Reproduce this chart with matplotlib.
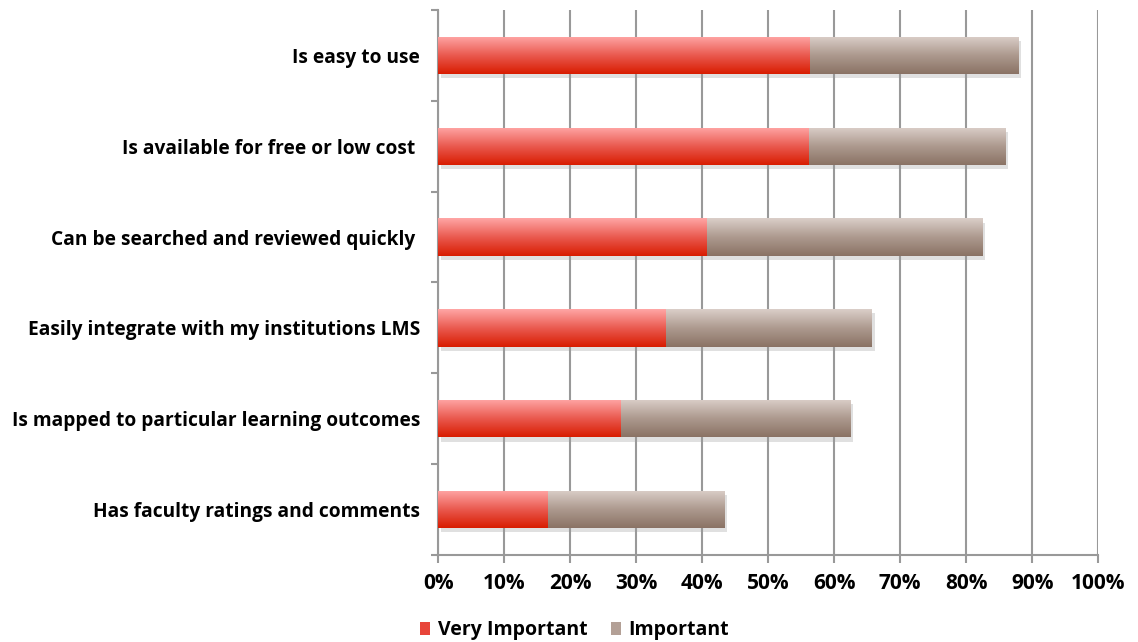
import matplotlib.pyplot as plt
import matplotlib.patheffects as pe
import numpy as np
from matplotlib.colors import LinearSegmentedColormap
from matplotlib.patches import Patch

categories = ['Is easy to use',
              'Is available for free or low cost ',
              'Can be searched and reviewed quickly ',
              'Easily integrate with my institutions LMS',
              'Is mapped to particular learning outcomes',
              'Has faculty ratings and comments']
very_important = [56.3, 56.2, 40.7, 34.5, 27.7, 16.6]
important = [31.6, 29.7, 41.7, 31.2, 34.7, 26.8]
xticks = [0, 10, 20, 30, 40, 50, 60, 70, 80, 90, 100]

plt.rcParams['font.family'] = ['Open Sans', 'DejaVu Sans']
plt.rcParams['font.weight'] = 'bold'

red_cmap = LinearSegmentedColormap.from_list('red', ['#ffa6a6', '#ea5a50', '#d81c00'])
gray_cmap = LinearSegmentedColormap.from_list('gray', ['#dbcfc9', '#ad9a8f', '#8a7264'])

fig = plt.figure(figsize=(11.38, 6.42), dpi=100)
ax = fig.add_axes([0.385, 0.1355, 0.58, 0.849])

y = np.arange(len(categories))
h = 0.41
grad = np.linspace(0, 1, 256).reshape(-1, 1)
shadow = [pe.SimplePatchShadow(offset=(2, -3), shadow_rgbFace='#999999', alpha=0.3), pe.Normal()]

bars_vi = ax.barh(y, very_important, height=h, color='#e8453a', zorder=3,
                  path_effects=shadow)
bars_im = ax.barh(y, important, left=very_important, height=h, color='#b3a096',
                  zorder=3, path_effects=shadow)

# gradient fill on each bar (light at top, dark at bottom)
for bars, cmap in [(bars_vi, red_cmap), (bars_im, gray_cmap)]:
    for b in bars:
        x0, y0 = b.get_x(), b.get_y()
        im = ax.imshow(grad, cmap=cmap, aspect='auto', origin='upper',
                       extent=(x0, x0 + b.get_width(), y0 + b.get_height(), y0),
                       zorder=4)
        im.set_clip_path(b)

ax.set_xlim(0, 100)
ax.set_ylim(len(categories) - 0.5, -0.5)
ax.set_xticks(xticks)
ax.set_xticklabels([f'{t}%' for t in xticks], fontsize=15, fontweight='bold')
ax.set_yticks(y)
ax.set_yticklabels(categories, fontsize=13.8, fontweight='bold')
ax.tick_params(axis='y', length=0, pad=13)
ax.set_yticks(np.arange(-0.5, len(categories)), minor=True)
ax.tick_params(axis='y', which='minor', length=5, color='#999999', width=1.5)
ax.tick_params(axis='x', length=6, color='#999999', width=1.5, pad=7)

ax.grid(axis='x', color='#999999', linewidth=1.5, zorder=0)
ax.set_axisbelow(True)
for s in ['top', 'right']:
    ax.spines[s].set_visible(False)
for s in ['left', 'bottom']:
    ax.spines[s].set_color('#999999')
    ax.spines[s].set_linewidth(1.5)

handles = [Patch(facecolor='#e8453a', label='Very Important'),
           Patch(facecolor='#b3a096', label='Important')]
fig.legend(handles=handles, loc='center', bbox_to_anchor=(0.505, 0.018), ncol=2,
           frameon=False, fontsize=14, handlelength=0.5, handleheight=0.6,
           handletextpad=0.4, columnspacing=1.2)

fig.savefig('out.png', dpi=100)
